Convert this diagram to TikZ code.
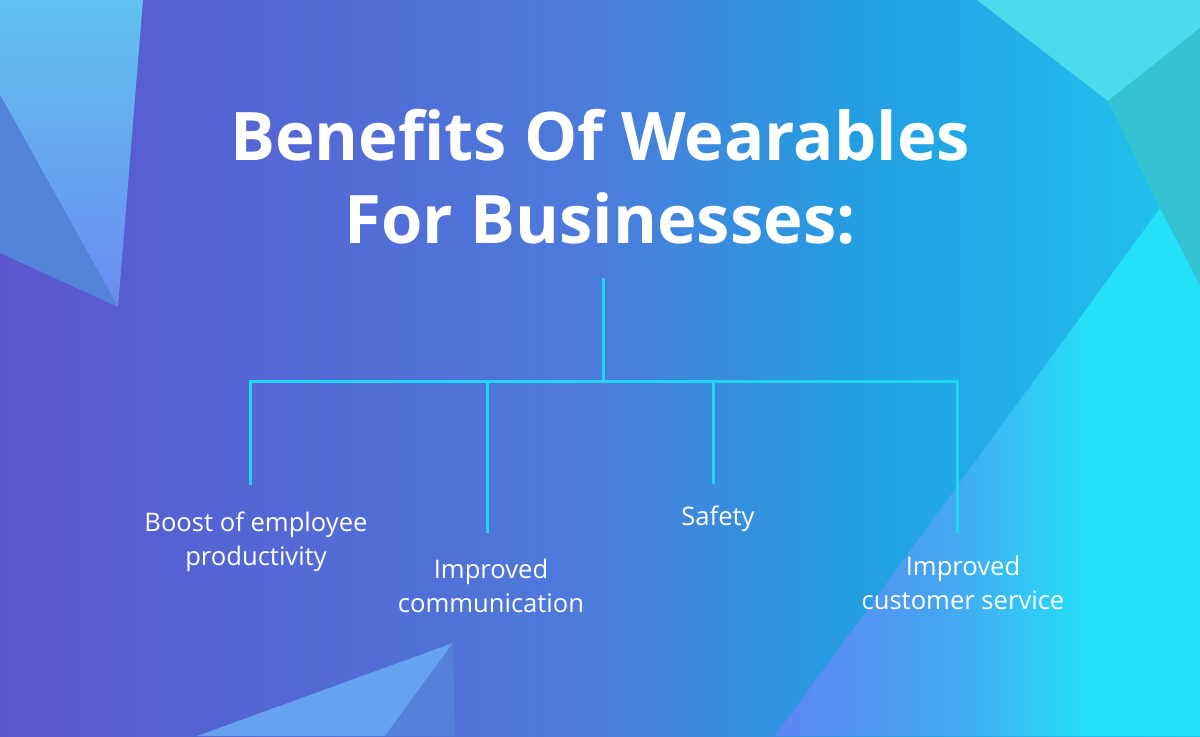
\documentclass[tikz,border=0pt]{standalone}
\usepackage{fontspec}
\setmainfont{Open Sans}
\usetikzlibrary{calc}
\definecolor{lineC}{HTML}{1FD6F4}
\definecolor{bgA}{HTML}{5A56CF}
\definecolor{bgB}{HTML}{4C7CDB}
\definecolor{bgC}{HTML}{229FE2}
\definecolor{bgD}{HTML}{22C4EE}
\definecolor{lrA}{HTML}{5F84F5}
\definecolor{lrB}{HTML}{45A6F2}
\definecolor{lrC}{HTML}{24E0F8}
\definecolor{tlA}{HTML}{62C2F0}
\definecolor{tlB}{HTML}{6A8CF0}
\definecolor{tlDark}{HTML}{5384D8}
\definecolor{trLight}{HTML}{4ADCEC}
\definecolor{trTeal}{HTML}{35C3D2}
\definecolor{blLight}{HTML}{67A2F0}
\definecolor{blDark}{HTML}{5582D8}
\pgfdeclarehorizontalshading{bgshade}{100bp}{color(0bp)=(bgA); color(25bp)=(bgA); color(50bp)=(bgB); color(61bp)=(bgC); color(75bp)=(bgD); color(100bp)=(bgD)}
\pgfdeclarehorizontalshading{lrshade}{100bp}{color(0bp)=(lrA); color(25bp)=(lrA); color(45bp)=(lrB); color(62bp)=(lrC); color(75bp)=(lrC); color(100bp)=(lrC)}
\tikzset{
  branch/.style={draw=lineC, line width=1.5pt},
  label/.style={text=white, font=\fontsize{12.8}{17}\selectfont, align=center, inner sep=0pt},
  titlestyle/.style={text=white, font=\bfseries\fontsize{33.5}{41.5}\selectfont, align=center, inner sep=0pt}
}
\begin{document}
\begin{tikzpicture}[x=0.5pt,y=-0.5pt]
\useasboundingbox (0,0) rectangle (1200,736);
% background
\shade[shading=bgshade] (0,0) rectangle (1200,736);
\shade[shading=lrshade] (775,736) -- (1160,208) -- (1200,285) -- (1200,736) -- cycle;
\fill[trLight] (977,0) -- (1200,0) -- (1200,28) -- (1108,101) -- cycle;
\fill[trTeal] (1108,101) -- (1200,28) -- (1200,285) -- (1160,208) -- cycle;
\shade[top color=tlA, bottom color=tlB] (0,0) -- (143,0) -- (118,307) -- (0,95) -- cycle;
\fill[tlDark] (0,95) -- (118,307) -- (0,253) -- cycle;
\fill[blLight] (197,736) -- (453,643) -- (385,736) -- cycle;
\fill[blDark] (385,736) -- (453,643) -- (455,736) -- cycle;
% title
\node[titlestyle] (title) at (600,177) {Benefits Of Wearables\\For Businesses:};
% labels
\node[label] (l1) at (256,542) {Boost of employee\\productivity};
\node[label] (l2) at (491,586) {Improved\\communication};
\node[label] (l3) at (718,519) {Safety};
\node[label] (l4) at (963,583) {Improved\\customer service};
% connector points
\coordinate (top) at (603,278);
\coordinate (hub) at (603,381);
\coordinate (b1) at (250,381);
\coordinate (b2) at (487,381);
\coordinate (b3) at (713,381);
\coordinate (b4) at (957,381);
\coordinate (e1) at (250,485);
\coordinate (e2) at (487,533);
\coordinate (e3) at (713,484);
\coordinate (e4) at (957,533);
\draw[branch] (top) -- (hub);
\draw[branch] (e1) -- (b1) -- (b4) -- (e4);
\draw[branch] (b2) -- (e2);
\draw[branch] (b3) -- (e3);
\end{tikzpicture}
\end{document}
